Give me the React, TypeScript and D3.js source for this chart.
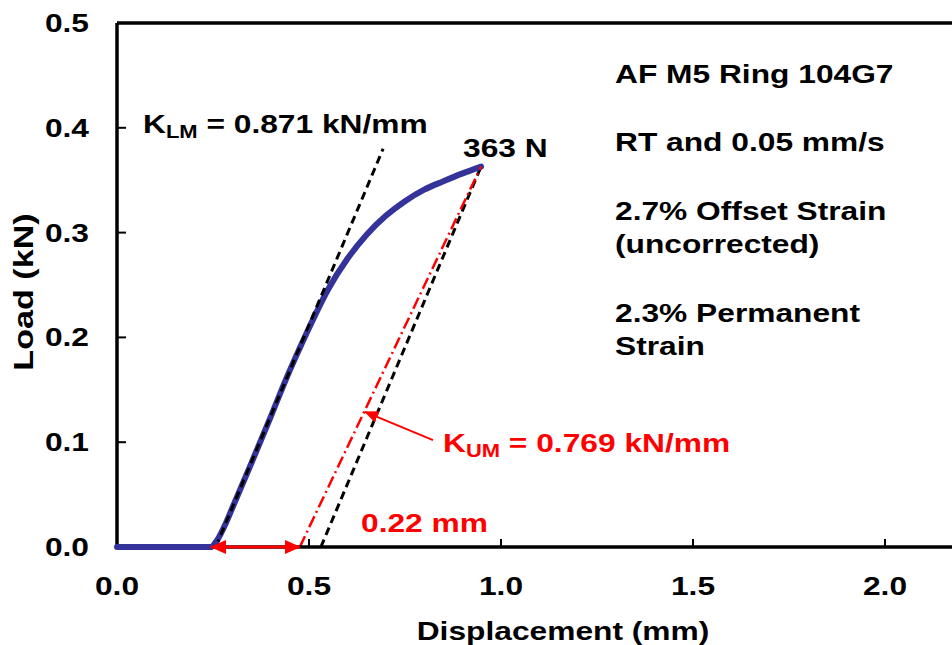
import React from "react";
import * as d3 from "d3";

// ---- data ----
const curveX = [0, 0.1, 0.2, 0.245, 0.26, 0.28, 0.3, 0.35, 0.4, 0.44, 0.47, 0.5, 0.55, 0.6, 0.65, 0.7, 0.75, 0.8, 0.85, 0.9, 0.948];
const curveY = [0, 0, 0, 0, 0.006, 0.02, 0.037, 0.08, 0.124, 0.16, 0.185, 0.209, 0.246, 0.275, 0.298, 0.316, 0.33, 0.341, 0.349, 0.3565, 0.363];
const loadSlopeLine = [[0.257, 0], [0.693, 0.38]];
const unloadBlackLine = [[0.531, 0], [0.948, 0.363]];
const unloadRedLine = [[0.476, 0], [0.948, 0.363]];
const offsetArrow = [[0.245, 0], [0.476, 0]];
const kumArrow = [[0.823, 0.102], [0.646, 0.129]];
const xTicks = [0, 0.5, 1.0, 1.5, 2.0];
const yTicks = [0, 0.1, 0.2, 0.3, 0.4, 0.5];
const infoLines = [
  "AF M5 Ring 104G7",
  "RT and 0.05 mm/s",
  "2.7% Offset Strain",
  "(uncorrected)",
  "2.3% Permanent",
  "Strain",
];
const infoBaselines = [83, 151, 220, 253, 322, 355];

const W = 952;
const H = 645;
const FONT = "'Liberation Sans', Arial, sans-serif";
const SX = 1.22;
const FS = 26;

function T(props: any) {
  const { x, y, size = FS, fill = "#000", anchor = "start", rotate = 0, children } = props;
  return (
    <text
      transform={`translate(${x},${y}) rotate(${rotate}) scale(${SX},1)`}
      fontFamily={FONT}
      fontWeight="bold"
      fontSize={size}
      fill={fill}
      textAnchor={anchor}
    >
      {children}
    </text>
  );
}

export default function App() {
  const x = d3.scaleLinear().domain([0, 2.2]).range([117, 117 + 2.2 * 384]);
  const y = d3.scaleLinear().domain([0, 0.5]).range([547, 23]);
  const pts: [number, number][] = curveX.map((v, i) => [v, curveY[i]]);
  const line = d3
    .line<[number, number]>()
    .x((d) => x(d[0]))
    .y((d) => y(d[1]))
    .curve(d3.curveMonotoneX);
  const seg = (p: number[][]) => `M${x(p[0][0])},${y(p[0][1])}L${x(p[1][0])},${y(p[1][1])}`;
  const fmt = d3.format(".1f");

  return (
    <svg width={W} height={H} style={{ position: "absolute", left: 0, top: 0, background: "#fff" }}>
      <defs>
        <marker id="ah" viewBox="0 0 16 14" refX="15" refY="7" markerWidth="16" markerHeight="14" markerUnits="userSpaceOnUse" orient="auto-start-reverse">
          <path d="M0,0L16,7L0,14Z" fill="#ff0000" />
        </marker>
        <marker id="ah2" viewBox="0 0 14 12" refX="13" refY="6" markerWidth="14" markerHeight="12" markerUnits="userSpaceOnUse" orient="auto">
          <path d="M0,0L14,6L0,12Z" fill="#ff0000" />
        </marker>
      </defs>
      <rect x={0} y={0} width={W} height={H} fill="#fff" />

      {/* axes frame */}
      <line x1={x(0)} x2={W} y1={y(0.5)} y2={y(0.5)} stroke="#000" strokeWidth={3.5} />
      <line x1={x(0)} x2={x(0)} y1={y(0.5)} y2={y(0)} stroke="#000" strokeWidth={3.5} />

      {/* y ticks */}
      {yTicks.map((t) => (
        <g key={"y" + t}>
          {t > 0 && t < 0.5 && <line x1={x(0)} x2={x(0) + 9} y1={y(t)} y2={y(t)} stroke="#000" strokeWidth={2} />}
          <T x={89} y={y(t) + 9} anchor="end">{fmt(t)}</T>
        </g>
      ))}
      {/* x ticks */}
      {xTicks.map((t) => (
        <g key={"x" + t}>
          {t > 0 && <line x1={x(t)} x2={x(t)} y1={y(0)} y2={y(0) - 8} stroke="#000" strokeWidth={2} />}
          <T x={x(t)} y={595} anchor="middle">{fmt(t)}</T>
        </g>
      ))}

      {/* black dashed unloading line */}
      <path d={seg(unloadBlackLine)} stroke="#000" strokeWidth={3} strokeDasharray="8,5" fill="none" />

      {/* blue curve */}
      <path d={line(pts) || ""} stroke="#333399" strokeWidth={6} fill="none" strokeLinecap="round" strokeLinejoin="round" />

      {/* black dashed loading slope */}
      <path d={seg(loadSlopeLine)} stroke="#000" strokeWidth={3} strokeDasharray="8,5" fill="none" />

      {/* red dash-dot */}
      <path d={seg(unloadRedLine)} stroke="#ff0000" strokeWidth={2.5} strokeDasharray="12,4,2,4" fill="none" />

      {/* bottom axis line */}
      <line x1={x(0)} x2={W} y1={y(0)} y2={y(0)} stroke="#000" strokeWidth={3.5} />
      <path d={line(pts.slice(0, 5)) || ""} stroke="#333399" strokeWidth={6} fill="none" />

      {/* offset double arrow */}
      <path d={seg(offsetArrow)} stroke="#ff0000" strokeWidth={3} fill="none" markerStart="url(#ah)" markerEnd="url(#ah)" />

      {/* KUM arrow */}
      <path d={seg(kumArrow)} stroke="#ff0000" strokeWidth={2} fill="none" markerEnd="url(#ah2)" />

      {/* annotations */}
      <T x={143} y={133}>
        K<tspan fontSize={18} dy={5}>LM</tspan>
        <tspan dy={-5}> = 0.871 kN/mm</tspan>
      </T>
      <T x={463} y={157}>363 N</T>
      <T x={443} y={452} fill="#ff0000">
        K<tspan fontSize={18} dy={5}>UM</tspan>
        <tspan dy={-5}> = 0.769 kN/mm</tspan>
      </T>
      <T x={361} y={532} fill="#ff0000">0.22 mm</T>

      {infoLines.map((s, i) => (
        <T key={s} x={615} y={infoBaselines[i]}>{s}</T>
      ))}

      {/* axis titles */}
      <T x={563} y={640} anchor="middle">Displacement (mm)</T>
      <T x={33} y={292} anchor="middle" rotate={-90} size={28}>Load (kN)</T>
    </svg>
  );
}
